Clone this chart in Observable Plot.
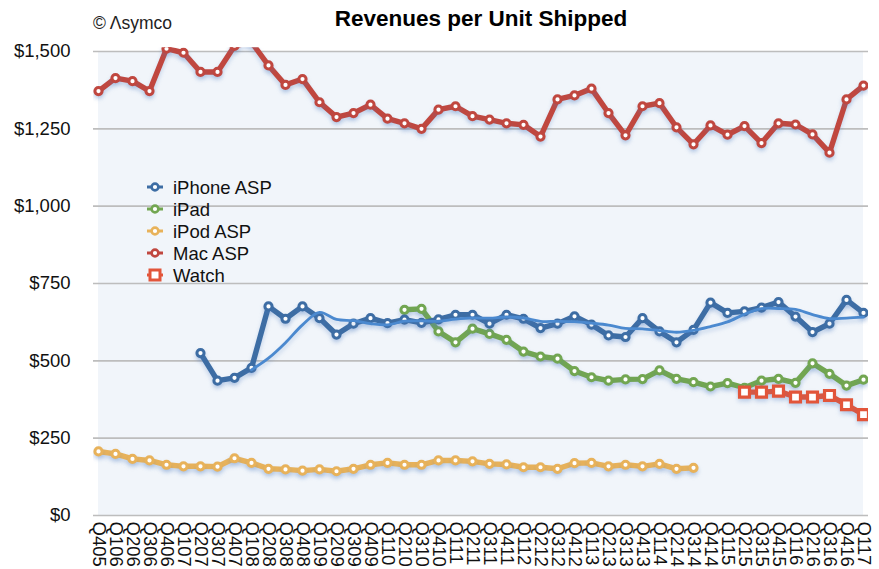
<!DOCTYPE html>
<html>
<head>
<meta charset="utf-8">
<script src="https://cdn.jsdelivr.net/npm/d3@7"></script>
<script src="https://cdn.jsdelivr.net/npm/@observablehq/plot@0.6"></script>
<style>
  body { margin: 0; background: #fff; font-family: "Liberation Sans", Arial, Helvetica, sans-serif; }
  #wrap { position: relative; width: 879px; height: 569px; overflow: hidden; }
  #chart { position: absolute; left: 0; top: 0; }
  #title { position: absolute; left: 231px; width: 500px; top: 8px; text-align: center; font-weight: bold; font-size: 22.5px; line-height: 22.5px; color: #000; }
  #copy { position: absolute; left: 93px; top: 15px; font-size: 17.5px; line-height: 17.5px; color: #222; }
  #legend { position: absolute; left: 146px; top: 179px; }
  .lrow { position: relative; height: 22px; font-size: 18.5px; line-height: 18.5px; color: #111; }
  .lrow svg { position: absolute; left: 0; top: 1px; }
  .lrow span { position: absolute; left: 27px; top: 0; white-space: nowrap; }
  svg g[aria-label="line"], svg g[aria-label="dot"] { filter: drop-shadow(0px 3px 2px rgba(80,125,195,0.28)); }
</style>
</head>
<body>
<div id="wrap">
  <div id="chart"></div>
  <div id="title">Revenues per Unit Shipped</div>
  <div id="copy">© Λsymco</div>
  <div id="legend"></div>
</div>
<script>
// ---- Data ----
const quarters = ["Q405","Q106","Q206","Q306","Q406","Q107","Q207","Q307","Q407","Q108","Q208","Q308","Q408","Q109","Q209","Q309","Q409","Q110","Q210","Q310","Q410","Q111","Q211","Q311","Q411","Q112","Q212","Q312","Q412","Q113","Q213","Q313","Q413","Q114","Q214","Q314","Q414","Q115","Q215","Q315","Q415","Q116","Q216","Q316","Q416","Q117"];

const iphoneASP = [null,null,null,null,null,null,
  525,436,445,477,676,636,676,638,585,620,
  638,622,633,623,634,649,649,620,649,636,
  606,620,644,617,582,577,638,595,560,600,
  688,655,660,672,690,643,593,620,697,655];

const ipadASP = [null,null,null,null,null,null,null,null,null,null,null,null,null,null,null,null,null,null,
  665,668,595,560,604,587,568,530,514,507,
  467,447,436,440,441,469,442,431,417,428,
  413,436,442,429,492,458,420,439];

const ipodASP = [207,199,183,178,164,159,159,158,185,170,
  151,149,145,149,143,151,164,170,164,164,
  178,178,175,167,165,156,156,151,169,170,
  159,164,159,167,151,154,
  null,null,null,null,null,null,null,null,null,null];

const macASP = [1372,1414,1404,1372,1509,1496,1434,1434,1518,1530,
  1455,1392,1411,1336,1288,1301,1328,1283,1268,1250,
  1312,1323,1291,1280,1268,1263,1225,1345,1358,1380,
  1301,1229,1323,1333,1255,1200,1261,1231,1259,1204,
  1268,1264,1232,1173,1345,1390];

const watchASP = [null,null,null,null,null,null,null,null,null,null,null,null,null,null,null,null,null,null,null,null,
  null,null,null,null,null,null,null,null,null,null,null,null,null,null,null,null,null,null,
  399,399,402,383,383,388,358,326];

const yTicks = [0, 250, 500, 750, 1000, 1250, 1500];

const seriesNames = ["iPhone ASP", "iPad", "iPod ASP", "Mac ASP", "Watch"];
const seriesColors = ["#3d6da4", "#72a651", "#e8b25a", "#c0473f", "#e2553a"];

// ---- Build rows ----
const rows = arr => quarters.map((q, i) => ({q, v: arr[i]})).filter(d => d.v != null);
const iphone = rows(iphoneASP), ipad = rows(ipadASP), ipod = rows(ipodASP), mac = rows(macASP), watch = rows(watchASP);
const yMax = d3.max(yTicks);

const lineW = 5.4;
function seriesMarks(data, color, symbol) {
  const sq = symbol === "square";
  return [
    Plot.line(data, {x: "q", y: "v", stroke: color, strokeWidth: lineW, strokeLinejoin: "round", clip: true}),
    Plot.dot(data, {x: "q", y: "v", r: sq ? 5.6 : 3.6, symbol: sq ? "square" : "circle",
      fill: "white", stroke: color, strokeWidth: sq ? 3.2 : 3, clip: true})
  ];
}

const chart = Plot.plot({
  width: 879,
  height: 569,
  marginLeft: 93,
  marginRight: 11,
  marginTop: 47.3,
  marginBottom: 54,
  style: {fontFamily: "Liberation Sans, Arial, Helvetica, sans-serif", fontSize: "18.5px", background: "transparent", color: "#111"},
  x: {type: "point", domain: quarters, padding: 0, label: null, tickRotate: 90, tickSize: 0, tickPadding: 6},
  y: {domain: [0, 1512], ticks: yTicks, tickFormat: d3.format("$,.0f"), tickSize: 0, tickPadding: 23, label: null},
  marks: [
    Plot.areaY(quarters, {x: d => d, y: () => yMax, fill: "#f1f5fa"}),
    Plot.ruleY(yTicks, {stroke: "#bdbdbd", strokeWidth: 1.6}),
    ...seriesMarks(mac, seriesColors[3]),
    ...seriesMarks(ipod, seriesColors[2]),
    ...seriesMarks(ipad, seriesColors[1]),
    ...seriesMarks(iphone, seriesColors[0]),
    Plot.lineY(iphone, Plot.windowY({k: 4, anchor: "end", reduce: "mean", strict: true},
      {x: "q", y: "v", stroke: "#4b89cf", strokeWidth: 2.8, curve: "catmull-rom", clip: true})),
    ...seriesMarks(watch, seriesColors[4], "square")
  ]
});
document.getElementById("chart").appendChild(chart);

// ---- Legend ----
const legend = document.getElementById("legend");
seriesNames.forEach((name, i) => {
  const row = document.createElement("div");
  row.className = "lrow";
  const c = seriesColors[i];
  const marker = i === 4
    ? `<rect x="4" y="2" width="10" height="10" fill="white" stroke="${c}" stroke-width="3"/>`
    : `<circle cx="9" cy="7" r="3.4" fill="white" stroke="${c}" stroke-width="2.6"/>`;
  row.innerHTML = `<svg width="18" height="14"><line x1="1" x2="17" y1="7" y2="7" stroke="${c}" stroke-width="3"/>${marker}</svg><span>${name}</span>`;
  legend.appendChild(row);
});
</script>
</body>
</html>
